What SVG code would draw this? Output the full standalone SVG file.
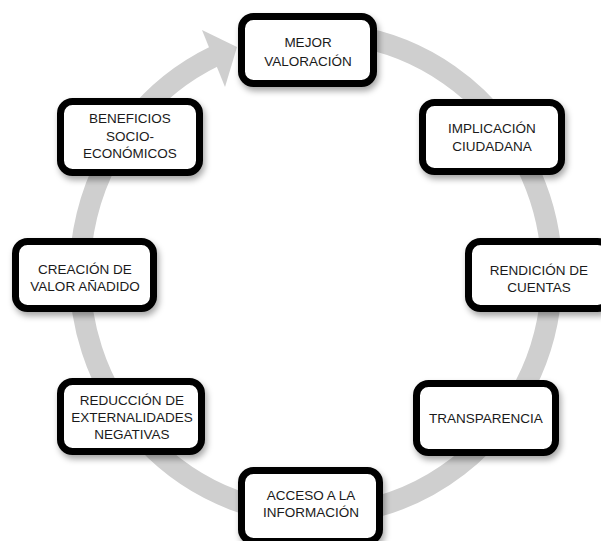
<svg xmlns="http://www.w3.org/2000/svg" width="601" height="541" viewBox="0 0 601 541">
<defs>
<style>
.box{fill:#fff;stroke:#000;stroke-width:7;filter:url(#sh)}
.t{font-family:"Liberation Sans",Arial,sans-serif;font-size:13.5px;fill:#1a1a1a;text-anchor:middle}
.ring{fill:none;stroke:#cfcfcf;stroke-width:21}
</style>
<filter id="sh" x="-20%" y="-20%" width="140%" height="150%">
<feDropShadow dx="2" dy="4" stdDeviation="3" flood-color="#000" flood-opacity="0.35"/>
</filter>
</defs>
<rect width="601" height="541" fill="#fff"/>
<g id="connectors">
<path class="ring" d="M352,35.7 A236,241 0 1 1 215,56"/>
<polygon points="202,30 237,47 225,87" fill="#cfcfcf"/>
</g>
<g id="n1"><rect class="box" x="241.5" y="16.5" width="132" height="67" rx="12"/>
<text class="t" x="308" y="47">MEJOR</text><text class="t" x="308" y="66">VALORACIÓN</text></g>
<g id="n2"><rect class="box" x="422.5" y="102.5" width="139" height="69" rx="12"/>
<text class="t" x="492" y="133">IMPLICACIÓN</text><text class="t" x="492" y="151">CIUDADANA</text></g>
<g id="n3"><rect class="box" x="468.5" y="241.5" width="141" height="67" rx="12"/>
<text class="t" x="539" y="275">RENDICIÓN DE</text><text class="t" x="539" y="292">CUENTAS</text></g>
<g id="n4"><rect class="box" x="60.5" y="101.5" width="139" height="71" rx="12"/>
<text class="t" x="130" y="123">BENEFICIOS</text><text class="t" x="130" y="141">SOCIO-</text><text class="t" x="130" y="158">ECONÓMICOS</text></g>
<g id="n5"><rect class="box" x="15.5" y="241.5" width="138" height="67" rx="12"/>
<text class="t" x="85" y="274">CREACIÓN DE</text><text class="t" x="85" y="291">VALOR AÑADIDO</text></g>
<g id="n6"><rect class="box" x="60.5" y="381.5" width="141" height="70" rx="12"/>
<text class="t" x="132" y="405">REDUCCIÓN DE</text><text class="t" x="132" y="422">EXTERNALIDADES</text><text class="t" x="132" y="439">NEGATIVAS</text></g>
<g id="n7"><rect class="box" x="241.5" y="470.5" width="138" height="71" rx="12"/>
<text class="t" x="311" y="500">ACCESO A LA</text><text class="t" x="311" y="517">INFORMACIÓN</text></g>
<g id="n8"><rect class="box" x="416.5" y="383.5" width="139" height="69" rx="12"/>
<text class="t" x="486" y="423">TRANSPARENCIA</text></g>
</svg>
